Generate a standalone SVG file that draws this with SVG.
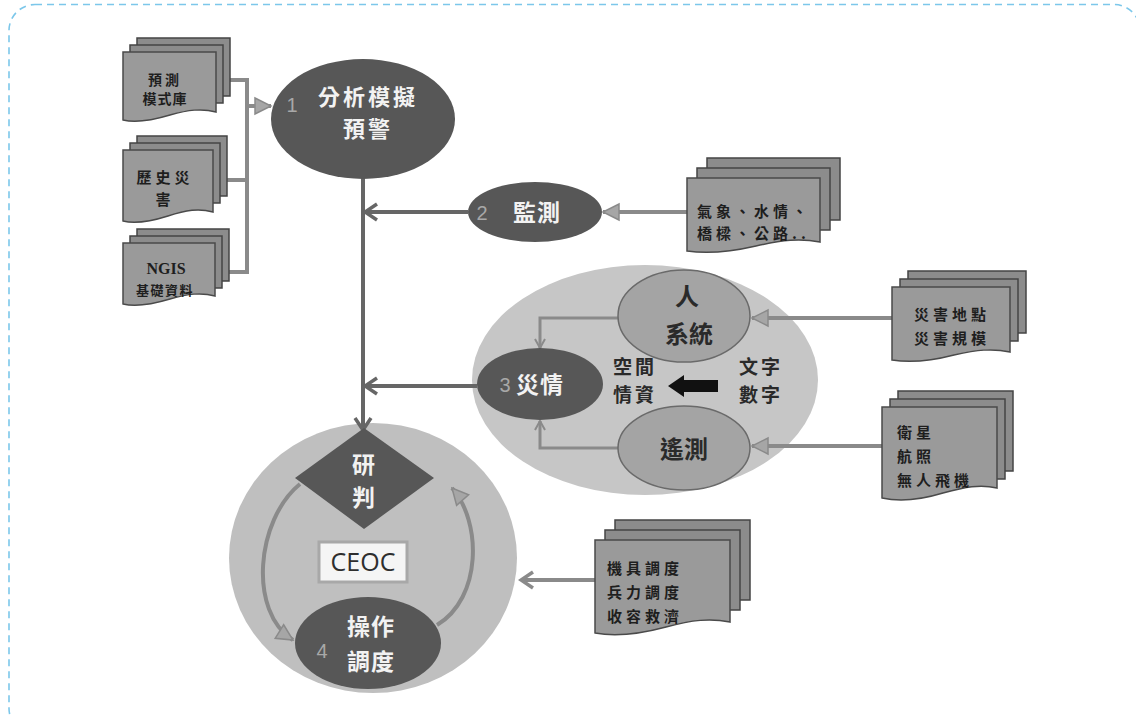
<svg xmlns="http://www.w3.org/2000/svg" width="1136" height="718" viewBox="0 0 1136 718">
<style>
.doc{fill:#9a9a9a;stroke:#4a4a4a;stroke-width:1.5}
.back{fill:#8c8c8c;stroke:#444;stroke-width:1.5}
.dt{font-family:"Noto Sans CJK TC","Noto Sans CJK SC",sans-serif;font-weight:bold;font-size:15px;fill:#1e1e1e;letter-spacing:4px}
.dark{fill:#575757}
.wt{font-family:"Noto Sans CJK TC","Noto Sans CJK SC",sans-serif;font-weight:bold;font-size:23px;fill:#f2f2f2;letter-spacing:1px}
.num{font-family:"Liberation Sans",sans-serif;font-size:20px;fill:#a8a8a8}
.bt{font-family:"Noto Sans CJK TC","Noto Sans CJK SC",sans-serif;font-weight:bold;font-size:22px;fill:#2a2a2a}
.main{fill:none;stroke:#666;stroke-width:4}
.feed{fill:none;stroke:#8a8a8a;stroke-width:4}
.inner{fill:none;stroke:#8a8a8a;stroke-width:3}
</style>
<defs>
<marker id="chev" viewBox="0 0 20 20" refX="17" refY="10" markerWidth="20" markerHeight="20" orient="auto" markerUnits="userSpaceOnUse">
<path d="M5,2 L17,10 L5,18" fill="none" stroke="#666" stroke-width="3.5"/>
</marker>
<marker id="chevg" viewBox="0 0 20 20" refX="17" refY="10" markerWidth="20" markerHeight="20" orient="auto" markerUnits="userSpaceOnUse">
<path d="M5,2 L17,10 L5,18" fill="none" stroke="#8a8a8a" stroke-width="3.5"/>
</marker>
<marker id="tri" viewBox="0 0 20 20" refX="18" refY="10" markerWidth="20" markerHeight="20" orient="auto" markerUnits="userSpaceOnUse">
<path d="M2,2 L18,10 L2,18 Z" fill="#a6a6a6" stroke="#8a8a8a" stroke-width="1.5"/>
</marker>
<marker id="small" viewBox="0 0 12 12" refX="11" refY="6" markerWidth="12" markerHeight="12" orient="auto" markerUnits="userSpaceOnUse">
<path d="M2,1 L11,6 L2,11" fill="none" stroke="#8a8a8a" stroke-width="2"/>
</marker>
</defs>
<rect width="1136" height="718" fill="#ffffff"/>
<rect x="9" y="4.5" width="1131" height="730" rx="26" fill="none" stroke="#7cc7ea" stroke-width="1.6" stroke-dasharray="7 5"/>

<g id="region3">
<ellipse cx="645" cy="380" rx="173" ry="115" fill="#c6c6c6"/>
</g>
<g id="ceoc-circle">
<ellipse cx="373" cy="558" rx="144" ry="135" fill="#bfbfbf"/>
</g>

<g id="connectors">
<polyline class="feed" points="228,80 247,80 247,272 225,272"/>
<line class="feed" x1="225" y1="180" x2="247" y2="180"/>
<line class="feed" x1="247" y1="106" x2="271" y2="106" marker-end="url(#tri)"/>
<line class="main" x1="363" y1="178" x2="363" y2="430" marker-end="url(#chev)"/>
<line class="main" x1="468" y1="212" x2="365" y2="212" marker-end="url(#chev)"/>
<line class="main" x1="477" y1="386" x2="365" y2="386" marker-end="url(#chev)"/>
<line class="feed" x1="687" y1="212" x2="603" y2="212" marker-end="url(#tri)"/>
<line class="feed" x1="892" y1="318" x2="752" y2="318" marker-end="url(#tri)"/>
<line class="feed" x1="882" y1="446" x2="752" y2="446" marker-end="url(#tri)"/>
<polyline class="inner" points="618,318 540,318 540,348" marker-end="url(#small)"/>
<polyline class="inner" points="618,448 540,448 540,421" marker-end="url(#small)"/>
<line class="feed" x1="595" y1="580" x2="521" y2="580" marker-end="url(#chevg)"/>
<path class="feed" d="M300,484 C256,520 248,612 293,640" marker-end="url(#tri)"/>
<path class="feed" d="M437,625 C482,598 482,522 452,488" marker-end="url(#tri)"/>
</g>

<g id="doc-forecast">
<rect class="back" x="137" y="38" width="93" height="58"/>
<rect class="back" x="130" y="45" width="93" height="58"/>
<path class="doc" d="M123,52 H216 V112 C202,108 188,110 170,115 C150,121 136,123 123,120 Z"/>
<text class="dt" x="165" y="85" text-anchor="middle" style="font-size:14px;letter-spacing:3px">預測</text>
<text class="dt" x="165" y="104" text-anchor="middle" style="font-size:14px;letter-spacing:1px">模式庫</text>
</g>
<g id="doc-history">
<rect class="back" x="137" y="136" width="90" height="60"/>
<rect class="back" x="130" y="143" width="90" height="60"/>
<path class="doc" d="M123,150 H213 V212 C199,208 186,210 168,216 C149,222 135,224 123,221 Z"/>
<text class="dt" x="165" y="183" text-anchor="middle">歷史災</text>
<text class="dt" x="165" y="205" text-anchor="middle">害</text>
</g>
<g id="doc-ngis">
<rect class="back" x="137" y="229" width="92" height="52"/>
<rect class="back" x="130" y="236" width="92" height="52"/>
<path class="doc" d="M123,243 H215 V296 C201,292 188,294 170,299 C150,305 136,307 123,304 Z"/>
<text x="166" y="274" text-anchor="middle" font-family="Liberation Serif, serif" font-weight="bold" font-size="16" fill="#1e1e1e">NGIS</text>
<text class="dt" x="165" y="295" text-anchor="middle" style="font-size:13px;letter-spacing:1.5px">基礎資料</text>
</g>

<g id="node-analysis">
<ellipse class="dark" cx="363" cy="119" rx="92" ry="60"/>
<text class="num" x="292" y="112" text-anchor="middle">1</text>
<text class="wt" x="368" y="105" text-anchor="middle" style="font-size:22px;letter-spacing:3px">分析模擬</text>
<text class="wt" x="368" y="137" text-anchor="middle" style="font-size:22px;letter-spacing:3px">預警</text>
</g>

<g id="node-monitor">
<ellipse class="dark" cx="535" cy="212" rx="67" ry="30"/>
<text class="num" x="482" y="220" text-anchor="middle">2</text>
<text class="wt" x="537" y="221" text-anchor="middle">監測</text>
</g>

<g id="doc-weather">
<rect class="back" x="707" y="158" width="133" height="62"/>
<rect class="back" x="697" y="168" width="133" height="62"/>
<path class="doc" d="M687,178 H820 V242 C800,238 782,240 756,246 C730,252 708,254 687,251 Z"/>
<text class="dt" x="697" y="217">氣象、水情、</text>
<text class="dt" x="697" y="239">橋樑、公路..</text>
</g>

<g id="node-disaster">
<ellipse class="dark" cx="540" cy="384" rx="63" ry="36"/>
<text class="num" x="505" y="392" text-anchor="middle">3</text>
<text class="wt" x="540" y="393" text-anchor="middle">災情</text>
</g>

<g id="node-people">
<ellipse cx="684" cy="316" rx="66" ry="46" fill="#a4a4a4" stroke="#6a6a6a" stroke-width="1.5"/>
<text class="bt" x="687" y="305" text-anchor="middle" style="font-size:24px">人</text>
<text class="bt" x="689" y="343" text-anchor="middle" style="font-size:24px">系統</text>
</g>

<g id="node-remote">
<ellipse cx="684" cy="448" rx="66" ry="42" fill="#a4a4a4" stroke="#6a6a6a" stroke-width="1.5"/>
<text class="bt" x="684" y="458" text-anchor="middle" style="font-size:24px">遙測</text>
</g>

<g id="labels-convert">
<text class="bt" x="635" y="374" text-anchor="middle" style="font-size:19px;letter-spacing:3px">空間</text>
<text class="bt" x="635" y="402" text-anchor="middle" style="font-size:19px;letter-spacing:3px">情資</text>
<polygon points="668,386 684,375 684,380 718,380 718,392 684,392 684,397" fill="#111"/>
<text class="bt" x="761" y="374" text-anchor="middle" style="font-size:19px;letter-spacing:3px">文字</text>
<text class="bt" x="761" y="402" text-anchor="middle" style="font-size:19px;letter-spacing:3px">數字</text>
</g>

<g id="doc-location">
<rect class="back" x="908" y="271" width="118" height="62"/>
<rect class="back" x="900" y="279" width="118" height="62"/>
<path class="doc" d="M892,287 H1010 V352 C992,348 977,350 954,355 C931,361 911,363 892,360 Z"/>
<text class="dt" x="952" y="320" text-anchor="middle">災害地點</text>
<text class="dt" x="952" y="344" text-anchor="middle">災害規模</text>
</g>

<g id="doc-satellite">
<rect class="back" x="898" y="391" width="115" height="80"/>
<rect class="back" x="890" y="399" width="115" height="80"/>
<path class="doc" d="M882,407 H997 V488 C980,484 965,487 943,493 C920,500 900,502 882,498 Z"/>
<text class="dt" x="897" y="438">衛星</text>
<text class="dt" x="897" y="462">航照</text>
<text class="dt" x="897" y="486">無人飛機</text>
</g>

<g id="node-judge">
<polygon class="dark" points="364,428 434,478 364,529 295,478"/>
<text class="wt" x="364" y="473" text-anchor="middle">研</text>
<text class="wt" x="364" y="506" text-anchor="middle">判</text>
</g>

<g id="node-ceoc">
<rect x="319" y="542" width="88" height="40" fill="#f5f5f5" stroke="#a8a8a8" stroke-width="3"/>
<text x="363" y="571" text-anchor="middle" font-family="Open Sans, sans-serif" font-size="25" fill="#2e2e2e">CEOC</text>
</g>

<g id="node-operate">
<ellipse class="dark" cx="368" cy="643" rx="73" ry="46"/>
<text class="num" x="322" y="658" text-anchor="middle">4</text>
<text class="wt" x="371" y="635" text-anchor="middle">操作</text>
<text class="wt" x="371" y="670" text-anchor="middle">調度</text>
</g>

<g id="doc-dispatch">
<rect class="back" x="615" y="520" width="135" height="80"/>
<rect class="back" x="605" y="530" width="135" height="80"/>
<path class="doc" d="M595,540 H730 V622 C710,618 692,620 666,627 C640,634 616,637 595,633 Z"/>
<text class="dt" x="607" y="574">機具調度</text>
<text class="dt" x="607" y="598">兵力調度</text>
<text class="dt" x="607" y="622">收容救濟</text>
</g>
</svg>
